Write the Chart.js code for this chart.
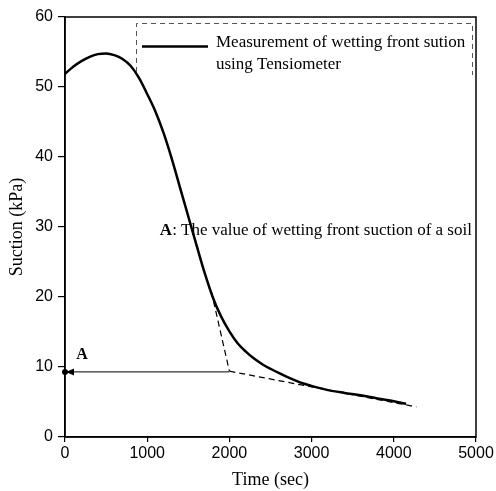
<!DOCTYPE html>
<html>
<head>
<meta charset="utf-8">
<script src="https://cdn.jsdelivr.net/npm/chart.js@4.4.1/dist/chart.umd.min.js"></script>
<style>
html,body{margin:0;padding:0;background:#fff;}
#wrap{width:496px;height:491px;position:relative;}
</style>
</head>
<body>
<div id="wrap"><canvas id="c" width="496" height="491"></canvas></div>
<script>
// Measured wetting front suction curve
const timeSec = [0,100,200,300,400,500,600,700,800,900,1000,1100,1200,1300,1400,1500,1600,1700,1800,1900,2000,2100,2200,2300,2400,2500,2600,2700,2800,2900,3000,3200,3400,3600,3800,4000,4150];
const suctionKPa = [51.9,52.9,53.7,54.3,54.7,54.8,54.55,54.0,53.0,51.3,49.0,46.5,43.4,39.7,35.6,31.5,27.4,23.4,19.9,17.2,15.1,13.4,12.2,11.2,10.4,9.75,9.15,8.6,8.1,7.65,7.3,6.7,6.3,5.95,5.5,5.1,4.75];
// Construction lines
const tangentSteepX = [1780, 2000];
const tangentSteepY = [20.8, 9.4];
const tangentTailX = [2000, 4275];
const tangentTailY = [9.4, 4.3];
const arrowX = [2000, 0];
const arrowY = [9.3, 9.3];
const xTicks = [0,1000,2000,3000,4000,5000];
const yTicks = [0,10,20,30,40,50,60];
const legendLabel = ["Measurement of wetting front sution", "using Tensiometer"];
const noteLabel = ["A", ": The value of wetting front suction of a soil"];
const noteAnchor = [1154, 29.5];
const pointLabelAnchor = [207, 11.7];

const toPts = (xs, ys) => xs.map((x, i) => ({x, y: ys[i]}));

const serif = '"Liberation Serif", "Times New Roman", serif';
const sans = '"Liberation Sans", Arial, sans-serif';

const decor = {
  id: 'decor',
  afterDraw(chart) {
    const {ctx, chartArea: a, scales: {x, y}} = chart;
    ctx.save();
    // frame
    ctx.strokeStyle = '#000';
    ctx.lineWidth = 1.5;
    ctx.strokeRect(a.left, a.top, a.right - a.left, a.bottom - a.top);
    // legend box (dashed, light)
    ctx.strokeStyle = '#555';
    ctx.lineWidth = 1;
    ctx.setLineDash([5, 4]);
    ctx.beginPath();
    ctx.moveTo(136.5, 72);
    ctx.lineTo(136.5, 23.5);
    ctx.lineTo(472.5, 23.5);
    ctx.lineTo(472.5, 75);
    ctx.stroke();
    ctx.setLineDash([]);
    // legend sample line
    ctx.strokeStyle = '#000';
    ctx.lineWidth = 2.5;
    ctx.beginPath();
    ctx.moveTo(142, 46.5);
    ctx.lineTo(208, 46.5);
    ctx.stroke();
    ctx.fillStyle = '#000';
    ctx.font = '17px ' + serif;
    ctx.textBaseline = 'middle';
    ctx.textAlign = 'left';
    ctx.fillText(legendLabel[0], 216, 43);
    ctx.fillText(legendLabel[1], 216, 65);
    // arrow head + dot at the axis end of the horizontal arrow
    const ax = x.getPixelForValue(arrowX[1]);
    const ay = y.getPixelForValue(arrowY[1]);
    ctx.beginPath();
    ctx.moveTo(ax + 1, ay);
    ctx.lineTo(ax + 9, ay - 3.5);
    ctx.lineTo(ax + 9, ay + 3.5);
    ctx.closePath();
    ctx.fill();
    ctx.beginPath();
    ctx.arc(ax, ay, 3, 0, Math.PI * 2);
    ctx.fill();
    // point label A
    ctx.font = 'bold 16px ' + serif;
    ctx.textAlign = 'center';
    ctx.fillText('A', x.getPixelForValue(pointLabelAnchor[0]), y.getPixelForValue(pointLabelAnchor[1]));
    // note text
    const nx = x.getPixelForValue(noteAnchor[0]);
    const ny = y.getPixelForValue(noteAnchor[1]);
    ctx.textAlign = 'left';
    ctx.font = 'bold 17px ' + serif;
    ctx.fillText(noteLabel[0], nx, ny);
    const w = ctx.measureText(noteLabel[0]).width;
    ctx.font = '17px ' + serif;
    ctx.fillText(noteLabel[1], nx + w, ny);
    ctx.restore();
  }
};

new Chart(document.getElementById('c'), {
  type: 'scatter',
  data: {
    datasets: [
      {
        label: 'Measurement of wetting front sution using Tensiometer',
        data: toPts(timeSec, suctionKPa),
        showLine: true,
        borderColor: '#000',
        borderWidth: 2.5,
        pointRadius: 0,
        cubicInterpolationMode: 'monotone',
        fill: false
      },
      {
        label: 'tangent1',
        data: toPts(tangentSteepX, tangentSteepY),
        showLine: true,
        borderColor: '#000',
        borderWidth: 1.2,
        borderDash: [6, 4],
        pointRadius: 0
      },
      {
        label: 'tangent2',
        data: toPts(tangentTailX, tangentTailY),
        showLine: true,
        borderColor: '#000',
        borderWidth: 1.2,
        borderDash: [6, 4],
        pointRadius: 0
      },
      {
        label: 'arrow',
        data: toPts(arrowX, arrowY),
        showLine: true,
        borderColor: '#000',
        borderWidth: 1,
        pointRadius: 0
      }
    ]
  },
  options: {
    responsive: false,
    animation: false,
    devicePixelRatio: 1,
    layout: {padding: {left: 0, right: 20, top: 17, bottom: 0}},
    plugins: {legend: {display: false}, tooltip: {enabled: false}},
    scales: {
      x: {
        type: 'linear',
        min: 0, max: 5000,
        afterBuildTicks: s => { s.ticks = xTicks.map(v => ({value: v})); },
        afterFit: s => { s.height = 54; },
        grid: {drawOnChartArea: false, tickLength: 5, color: '#000', lineWidth: 1.2},
        border: {color: '#000', width: 1.5},
        ticks: {color: '#000', font: {family: sans, size: 16}, padding: 2, maxRotation: 0, callback: v => String(v)},
        title: {display: true, text: 'Time (sec)', color: '#000', font: {family: serif, size: 18}, padding: {top: 0, bottom: 0}}
      },
      y: {
        type: 'linear',
        min: 0, max: 60,
        afterBuildTicks: s => { s.ticks = yTicks.map(v => ({value: v})); },
        afterFit: s => { s.width = 65; },
        grid: {drawOnChartArea: false, tickLength: 7, color: '#000', lineWidth: 1.2},
        border: {color: '#000', width: 1.5},
        ticks: {color: '#000', font: {family: sans, size: 16}, padding: 5, callback: v => String(v)},
        title: {display: true, text: 'Suction (kPa)', color: '#000', font: {family: serif, size: 18}, padding: {top: 6, bottom: 0}}
      }
    }
  },
  plugins: [decor]
});
</script>
</body>
</html>
